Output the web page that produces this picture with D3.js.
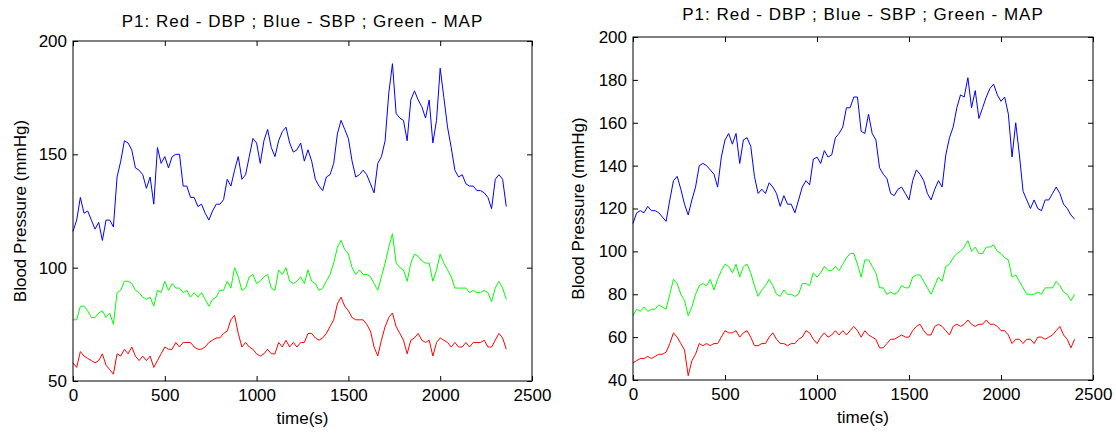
<!DOCTYPE html>
<html>
<head>
<meta charset="utf-8">
<script src="https://d3js.org/d3.v7.min.js"></script>
<style>
  body { margin: 0; background: #fff; }
  text { font-family: "Liberation Sans", Arial, sans-serif; fill: #000; }
</style>
</head>
<body>
<svg width="1116" height="433"></svg>
<script>
const leftTimes = d3.range(0, 2361, 20)
const rightTimes = d3.range(0, 2401, 20)

const leftSBP = [116,121,131,124,125,121,117,120,112,121,
  121,118,140,147,156,155,152,144,143,141,
  135,140,128,153,146,149,144,149,150,150,
  136,136,131,131,127,128,124,121,125,128,
  128,130,139,136,143,149,139,141,149,157,
  155,146,156,161,153,149,156,160,162,155,
  151,152,155,147,152,147,139,136,134,140,
  141,146,159,165,161,157,147,140,141,143,
  141,137,133,146,149,156,177,190,168,166,
  165,156,174,178,174,171,166,174,155,165,
  188,175,162,153,143,140,141,137,136,136,
  134,134,133,131,126,139,141,139,127]
const leftMAP = [77,77,83,83,81,78,78,80,81,78,
  80,75,89,90,94,94,93,90,89,87,
  86,87,83,90,89,94,90,93,91,91,
  89,90,87,89,87,89,86,83,86,87,
  90,90,94,91,100,96,90,91,96,97,
  93,94,96,97,91,90,99,97,100,94,
  93,94,96,93,99,94,93,90,91,94,
  97,102,109,112,108,106,100,97,99,97,
  97,96,93,90,96,102,109,115,102,100,
  99,94,102,106,105,103,102,102,94,99,
  106,102,99,96,91,91,91,91,89,90,
  89,89,90,89,85,91,94,91,86]
const leftDBP = [58,56,63,61,60,59,58,59,62,57,
  55,53,62,61,64,62,65,61,59,61,
  59,61,56,59,62,65,64,64,67,65,
  67,67,67,65,64,64,65,67,68,69,
  69,71,72,77,79,71,65,67,65,64,
  62,61,62,64,62,62,67,65,68,65,
  67,65,67,67,71,71,69,68,69,71,
  74,77,84,87,83,81,78,77,77,77,
  75,72,65,61,68,74,78,80,74,71,
  68,62,68,69,71,68,67,68,61,67,
  69,68,67,65,67,65,65,67,65,67,
  67,67,68,65,65,68,71,69,64]

const rightSBP = [113,118,119,118,121,119,119,118,116,114,
  124,133,135,129,122,117,124,130,140,141,
  140,138,136,130,144,152,155,150,155,141,
  152,153,149,135,127,129,127,132,130,127,
  121,126,122,122,118,124,130,133,131,143,
  144,141,147,144,145,153,155,158,167,167,
  172,172,156,155,164,155,152,139,136,134,
  127,126,129,130,127,124,133,138,136,133,
  127,124,129,133,130,145,153,158,167,173,
  172,181,167,175,162,167,172,176,178,173,
  170,172,164,144,160,145,128,124,120,124,
  120,119,124,124,127,130,127,122,120,117,115]
const rightMAP = [70,73,72,74,72,73,73,75,74,73,
  80,87,85,80,77,70,74,80,84,85,
  84,87,82,87,91,94,93,90,94,88,
  93,94,90,84,79,82,84,87,84,80,
  79,82,80,80,79,80,85,85,84,90,
  88,90,93,91,91,93,91,94,97,99,
  99,94,88,96,96,93,90,83,83,80,
  81,80,81,84,83,83,88,89,89,86,
  83,80,84,88,86,93,94,97,99,100,
  102,105,100,102,99,99,102,102,103,100,
  99,97,96,88,89,86,83,80,80,80,
  81,80,83,83,83,86,84,81,80,77,80]
const rightDBP = [48,49,50,50,51,50,51,52,52,53,
  57,62,60,57,54,42,49,52,57,56,
  57,56,57,57,60,63,62,62,63,60,
  62,63,60,56,56,57,57,60,62,59,
  57,57,56,57,57,59,60,63,62,59,
  57,60,62,60,61,63,61,63,61,63,
  65,63,60,63,61,60,59,55,55,57,
  59,59,60,61,60,60,63,65,66,63,
  61,61,65,66,65,63,61,65,66,65,
  66,68,66,65,66,66,68,66,66,65,
  63,63,61,57,59,59,57,59,59,57,
  60,60,59,60,61,63,65,61,59,55,59]

const xTicks = [0, 500, 1000, 1500, 2000, 2500]
const leftYTicks = [50, 100, 150, 200]
const rightYTicks = [40, 60, 80, 100, 120, 140, 160, 180, 200]
const title = "P1: Red - DBP ; Blue - SBP ; Green - MAP"

const svg = d3.select("svg")

function drawPanel(p) {
  const g = svg.append("g").attr("transform", `translate(${p.left},${p.top})`)
  const x = d3.scaleLinear().domain([0, 2500]).range([0, p.width])
  const y = d3.scaleLinear().domain(p.yDomain).range([p.height, 0])

  const line = d3.line().x((d, i) => x(p.times[i])).y(d => y(d))
  const series = [
    {values: p.sbp, color: "#0000ff"},
    {values: p.map, color: "#00ff00"},
    {values: p.dbp, color: "#ff0000"}
  ]
  g.selectAll("path.series")
    .data(series)
    .join("path")
      .attr("class", "series")
      .attr("fill", "none")
      .attr("stroke", d => d.color)
      .attr("stroke-width", 1)
      .attr("d", d => line(d.values))

  // box + inward ticks, matlab style
  g.append("rect")
    .attr("width", p.width).attr("height", p.height)
    .attr("fill", "none").attr("stroke", "#000").attr("stroke-width", 1)

  const bottom = g.append("g").attr("transform", `translate(0,${p.height})`)
    .call(d3.axisBottom(x).tickValues(xTicks).tickSize(-5).tickPadding(8).tickFormat(d3.format("d")))
  const top = g.append("g")
    .call(d3.axisTop(x).tickValues(xTicks).tickSize(-5).tickFormat(""))
  const left = g.append("g")
    .call(d3.axisLeft(y).tickValues(p.yTicks).tickSize(-5).tickPadding(6).tickFormat(d3.format("d")))
  const right = g.append("g").attr("transform", `translate(${p.width},0)`)
    .call(d3.axisRight(y).tickValues(p.yTicks).tickSize(-5).tickFormat(""))
  ;[bottom, top, left, right].forEach(a => {
    a.select(".domain").remove()
    a.selectAll("line").attr("stroke", "#000")
    a.selectAll("text").attr("font-size", 17).attr("font-family", null).attr("fill", "#000")
  })

  g.append("text")
    .attr("x", p.width / 2).attr("y", p.titleY)
    .attr("text-anchor", "middle").attr("font-size", 17)
    .attr("letter-spacing", 1.0)
    .text(title)
  g.append("text")
    .attr("x", p.width / 2).attr("y", p.height + 43)
    .attr("text-anchor", "middle").attr("font-size", 17)
    .text("time(s)")
  g.append("text")
    .attr("transform", `translate(${p.ylabelX},${p.height / 2}) rotate(-90)`)
    .attr("text-anchor", "middle").attr("font-size", 17)
    .text("Blood Pressure (mmHg)")
}

drawPanel({left: 73, top: 41, width: 459, height: 340, yDomain: [50, 200], yTicks: leftYTicks,
  times: leftTimes, sbp: leftSBP, map: leftMAP, dbp: leftDBP, titleY: -14, ylabelX: -47})
drawPanel({left: 633, top: 37, width: 460, height: 343, yDomain: [40, 200], yTicks: rightYTicks,
  times: rightTimes, sbp: rightSBP, map: rightMAP, dbp: rightDBP, titleY: -17, ylabelX: -49})
</script>
</body>
</html>
